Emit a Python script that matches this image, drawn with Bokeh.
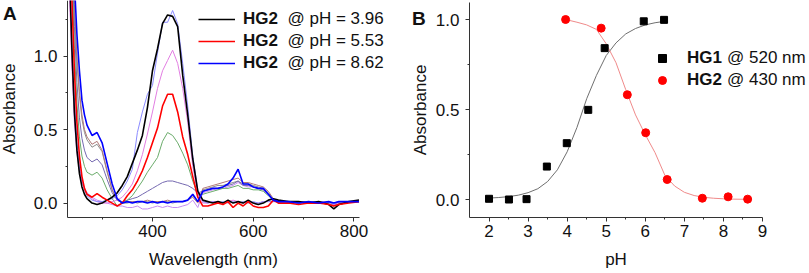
from bokeh.plotting import figure
from bokeh.layouts import row
from bokeh.models import Legend, LegendItem, FixedTicker, Range1d, NumeralTickFormatter
from bokeh.embed import file_html
from bokeh.resources import INLINE

FONT = "Liberation Sans"

# ---------------- Panel A data (absorption spectra) ----------------
wl = [232, 236, 240, 245, 250, 255, 260, 265, 270, 280, 290, 300, 310, 320, 330, 340,
      350, 360, 370, 380, 390, 400, 410, 420, 430, 440, 450, 460, 470, 480, 490, 500,
      510, 520, 530, 540, 550, 560, 570, 580, 590, 600, 610, 620, 630, 640, 650, 670,
      690, 710, 730, 750, 760, 770, 790, 810]

abs_ph396 = [2.2, 1.5, 1.05, 0.62, 0.36, 0.2, 0.11, 0.06, 0.03, 0.0, -0.01, 0.0, 0.02, 0.04, 0.07, 0.12,
             0.18, 0.27, 0.36, 0.46, 0.65, 0.9, 1.05, 1.22, 1.28, 1.27, 1.2, 0.87, 0.6, 0.3, 0.08, 0.02,
             0.01, 0.0, 0.01, 0.0, 0.02, 0.0, 0.01, 0.0, 0.02, 0.0, -0.01, 0.0, 0.02, 0.03, 0.02, 0.01,
             0.01, 0.0, 0.01, -0.01, -0.04, -0.01, 0.01, 0.02]
abs_lightblue = [2.1, 1.6, 1.15, 0.72, 0.42, 0.25, 0.15, 0.09, 0.05, 0.02, 0.01, 0.01, 0.02, 0.03, 0.05, 0.09,
                 0.15, 0.23, 0.48, 0.62, 0.74, 0.8, 1.02, 1.23, 1.23, 1.31, 1.22, 0.95, 0.66, 0.32, 0.09, 0.01,
                 0.0, 0.01, 0.0, 0.01, 0.0, 0.01, 0.0, 0.01, 0.0, 0.01, 0.0, 0.01, 0.01, 0.01, 0.01, 0.01,
                 0.0, 0.01, 0.01, 0.0, 0.0, 0.01, 0.01, 0.01]
abs_violet = [1.9, 1.35, 0.95, 0.6, 0.38, 0.24, 0.15, 0.1, 0.06, 0.03, 0.01, 0.0, 0.0, 0.01, 0.02, 0.04,
              0.08, 0.13, 0.22, 0.33, 0.47, 0.62, 0.78, 0.9, 0.97, 1.04, 0.95, 0.78, 0.55, 0.25, 0.06, 0.0,
              0.0, 0.01, 0.01, 0.0, 0.01, 0.02, 0.01, 0.0, 0.01, 0.0, 0.0, 0.01, 0.01, 0.01, 0.01, 0.01,
              0.01, 0.0, 0.01, 0.0, -0.01, 0.0, 0.01, 0.01]
abs_ph553 = [2.4, 1.85, 1.4, 0.9, 0.55, 0.32, 0.18, 0.1, 0.06, 0.04, 0.065, 0.04, 0.02, 0.0, -0.02, 0.0,
             0.05, 0.09, 0.15, 0.22, 0.31, 0.41, 0.51, 0.66, 0.74, 0.74, 0.62, 0.45, 0.33, 0.18, 0.04, -0.02,
             -0.02, -0.01, 0.0, -0.01, 0.01, -0.03, 0.0, -0.02, 0.01, -0.02, -0.03, -0.03, -0.02, 0.02, 0.0, 0.0,
             -0.01, 0.0, 0.0, -0.01, -0.02, -0.01, 0.0, 0.01]
abs_green = [2.5, 1.95, 1.55, 1.05, 0.68, 0.45, 0.32, 0.25, 0.21, 0.19, 0.21, 0.17, 0.09, 0.03, -0.02, 0.0,
             0.02, 0.05, 0.1, 0.15, 0.21, 0.26, 0.31, 0.42, 0.48, 0.46, 0.41, 0.34, 0.26, 0.15, 0.06, 0.06,
             0.07, 0.08, 0.09, 0.1, 0.1, 0.11, 0.12, 0.1, 0.1, 0.09, 0.09, 0.08, 0.05, 0.02, 0.01, 0.01,
             0.0, 0.01, 0.0, 0.0, -0.02, 0.0, 0.01, 0.01]
abs_slate = [2.7, 2.1, 1.7, 1.2, 0.82, 0.58, 0.44, 0.36, 0.31, 0.28, 0.3, 0.26, 0.16, 0.07, 0.02, 0.01,
             0.02, 0.03, 0.04, 0.06, 0.08, 0.1, 0.12, 0.14, 0.15, 0.15, 0.14, 0.13, 0.12, 0.1, 0.07, 0.08,
             0.09, 0.1, 0.1, 0.11, 0.12, 0.13, 0.15, 0.12, 0.12, 0.11, 0.1, 0.09, 0.06, 0.02, 0.01, 0.01,
             0.01, 0.0, 0.01, 0.0, -0.01, 0.0, 0.01, 0.01]
abs_brown = [2.9, 2.25, 1.85, 1.35, 1.0, 0.76, 0.6, 0.5, 0.45, 0.4, 0.42, 0.36, 0.22, 0.09, 0.02, 0.0,
             0.01, 0.01, 0.01, 0.01, 0.02, 0.01, 0.01, 0.01, 0.02, 0.01, 0.01, 0.01, 0.02, 0.04, 0.0, 0.1,
             0.11, 0.12, 0.13, 0.14, 0.15, 0.16, 0.17, 0.14, 0.14, 0.13, 0.12, 0.11, 0.08, 0.03, 0.01, 0.01,
             0.01, 0.01, 0.0, 0.01, -0.01, 0.0, 0.01, 0.01]
abs_gray = [2.8, 2.2, 1.8, 1.3, 0.96, 0.73, 0.57, 0.48, 0.43, 0.38, 0.4, 0.35, 0.21, 0.09, 0.02, 0.0,
            0.0, 0.01, 0.0, 0.01, 0.01, 0.0, 0.01, 0.01, 0.01, 0.0, 0.01, 0.01, 0.02, 0.05, 0.01, 0.09,
            0.1, 0.11, 0.12, 0.12, 0.13, 0.14, 0.15, 0.13, 0.13, 0.12, 0.11, 0.1, 0.07, 0.02, 0.01, 0.01,
            0.0, 0.01, 0.01, 0.0, -0.02, 0.0, 0.01, 0.01]
abs_lilac = [2.0, 1.4, 0.95, 0.55, 0.34, 0.22, 0.15, 0.1, 0.07, 0.04, 0.02, 0.01, 0.0, -0.01, -0.02, -0.02,
             -0.03, -0.03, -0.02, -0.04, -0.04, -0.03, -0.02, -0.03, -0.02, -0.03, -0.03, -0.02, -0.01, 0.02, -0.03, 0.07,
             0.08, 0.09, 0.1, 0.1, 0.11, 0.12, 0.14, 0.12, 0.11, 0.11, 0.1, 0.09, 0.06, 0.02, 0.01, 0.01,
             0.01, 0.0, 0.01, 0.0, -0.01, 0.0, 0.01, 0.01]
abs_ph862 = [3.0, 2.4, 1.95, 1.5, 1.15, 0.9, 0.7, 0.6, 0.53, 0.46, 0.48, 0.41, 0.27, 0.13, 0.03, 0.0,
             0.01, 0.0, 0.01, 0.01, 0.0, 0.01, 0.0, 0.01, 0.0, 0.01, 0.01, 0.01, 0.02, 0.06, 0.01, 0.08,
             0.09, 0.1, 0.1, 0.11, 0.13, 0.17, 0.23, 0.13, 0.13, 0.11, 0.1, 0.1, 0.06, 0.02, 0.01, 0.01,
             0.0, 0.01, 0.0, 0.01, 0.0, 0.01, 0.01, 0.01]

legend_a_names = ["HG2", "HG2", "HG2"]
legend_a_rest = ["@ pH = 3.96", "@ pH = 5.53", "@ pH = 8.62"]

# ---------------- Panel B data (titration) ----------------
ph_hg1 = [2.0, 2.51, 2.96, 3.48, 3.99, 4.54, 4.96, 5.96, 6.48]
a_hg1 = [0.004, 0.0, 0.002, 0.183, 0.313, 0.498, 0.841, 0.99, 0.998]
ph_hg2 = [3.96, 4.87, 5.54, 6.01, 6.56, 7.46, 8.12, 8.62]
a_hg2 = [1.0, 0.952, 0.582, 0.371, 0.111, 0.007, 0.015, 0.002]

fit1_ph = [2.0, 2.25, 2.5, 2.75, 3.0, 3.25, 3.5, 3.75, 4.0, 4.25, 4.5, 4.75, 5.0, 5.25, 5.5, 5.75, 6.0, 6.25, 6.5]
fit1_a = [0.008, 0.011, 0.016, 0.024, 0.038, 0.06, 0.1, 0.165, 0.265, 0.4, 0.56, 0.69, 0.8, 0.87, 0.92, 0.95, 0.97, 0.982, 0.99]
fit2_ph = [3.96, 4.25, 4.5, 4.75, 5.0, 5.25, 5.5, 5.75, 6.0, 6.25, 6.5, 6.75, 7.0, 7.25, 7.5, 7.75, 8.0, 8.25, 8.62]
fit2_a = [1.0, 0.985, 0.97, 0.945, 0.865, 0.76, 0.61, 0.47, 0.36, 0.26, 0.135, 0.075, 0.04, 0.022, 0.012, 0.007, 0.004, 0.002, 0.001]

legend_b_names = ["HG1", "HG2"]
legend_b_rest = ["@ 520 nm", "@ 430 nm"]

TXT = "#111111"


def style(p, xb, yb, ylab_standoff):
    p.outline_line_color = None
    p.xgrid.visible = False
    p.ygrid.visible = False
    p.background_fill_color = "white"
    p.border_fill_color = "white"
    xa, ya = p.xaxis[0], p.yaxis[0]
    xa.bounds = xb
    ya.bounds = yb
    xa.fixed_location = yb[0]
    ya.fixed_location = xb[0]
    for ax in (xa, ya):
        ax.axis_line_color = "#333333"
        ax.axis_line_width = 1
        ax.major_tick_line_color = "#333333"
        ax.minor_tick_line_color = "#333333"
        ax.major_tick_in = 0
        ax.major_tick_out = 4
        ax.minor_tick_in = 0
        ax.minor_tick_out = 2
        ax.major_label_text_font = FONT
        ax.major_label_text_font_size = "17px"
        ax.major_label_text_color = TXT
        ax.axis_label_text_font = FONT
        ax.axis_label_text_font_size = "17px"
        ax.axis_label_text_font_style = "normal"
        ax.axis_label_text_color = TXT
    xa.major_label_standoff = 3
    xa.axis_label_standoff = 10
    ya.major_label_standoff = 6
    ya.axis_label_standoff = ylab_standoff
    ya.formatter = NumeralTickFormatter(format="0.0")


def text_legend(p, texts, x, y, size="17px", bold=False):
    dummy = p.line([], [], line_alpha=0)
    items = [LegendItem(label=t, renderers=[dummy]) for t in texts]
    leg = Legend(items=items, location=(x, y), padding=0, margin=0, spacing=0,
                 glyph_width=1, glyph_height=22, label_height=22, label_standoff=0,
                 label_text_font=FONT, label_text_font_size=size,
                 label_text_font_style="bold" if bold else "normal",
                 label_text_color=TXT, background_fill_alpha=0, border_line_alpha=0,
                 inactive_fill_alpha=0)
    p.add_layout(leg)


# ---------------- Figure A ----------------
# frame covers the whole canvas; axes are drawn at fixed locations inside it
pa = figure(width=410, height=273, x_range=Range1d(98.3, 912.25), y_range=Range1d(-0.479, 1.378),
            output_backend="svg", toolbar_location=None, min_border=0)
style(pa, (231.3, 811), (-0.0986, 1.378), 12)
pa.xaxis.axis_label = "Wavelength (nm)"
pa.yaxis.axis_label = "Absorbance"
pa.xaxis.ticker = FixedTicker(ticks=[400, 600, 800], minor_ticks=[300, 500, 700])
pa.yaxis.ticker = FixedTicker(ticks=[0, 0.5, 1.0], minor_ticks=[0.25, 0.75, 1.25])

thin = [(abs_lilac, "#c58cf2"), (abs_gray, "#8e8e8e"), (abs_brown, "#b07a7a"),
        (abs_slate, "#7569b0"), (abs_green, "#6aab6a"), (abs_violet, "#e27ee2"),
        (abs_lightblue, "#8a8aff")]
for ys, c in thin:
    pa.line(wl, ys, line_color=c, line_width=1)

r_black = pa.line(wl, abs_ph396, line_color="black", line_width=1.6)
r_red = pa.line(wl, abs_ph553, line_color="#ff0000", line_width=1.6)
r_blue = pa.line(wl, abs_ph862, line_color="#0000ff", line_width=1.6)

leg_a = Legend(items=[LegendItem(label=legend_a_names[0], renderers=[r_black]),
                      LegendItem(label=legend_a_names[1], renderers=[r_red]),
                      LegendItem(label=legend_a_names[2], renderers=[r_blue])],
               location=(198, 199), padding=0, margin=0, spacing=0,
               glyph_width=37, glyph_height=22, label_height=22, label_standoff=8,
               label_text_font=FONT, label_text_font_size="17px", label_text_font_style="bold",
               label_text_color=TXT, background_fill_alpha=0, border_line_alpha=0)
pa.add_layout(leg_a)
text_legend(pa, legend_a_rest, 286.5, 199)
text_legend(pa, ["A"], 2, 248, size="19px", bold=True)

# ---------------- Figure B ----------------
pb = figure(width=399, height=273, x_range=Range1d(-0.010, 10.203), y_range=Range1d(-0.4111, 1.1056),
            output_backend="svg", toolbar_location=None, min_border=0)
style(pb, (1.5, 9), (-0.1, 1.094), 3)
pb.xaxis.axis_label = "pH"
pb.yaxis.axis_label = "Absorbance"
pb.xaxis.ticker = FixedTicker(ticks=[2, 3, 4, 5, 6, 7, 8, 9],
                              minor_ticks=[2.5, 3.5, 4.5, 5.5, 6.5, 7.5, 8.5])
pb.yaxis.ticker = FixedTicker(ticks=[0, 0.5, 1.0], minor_ticks=[0.25, 0.75])

pb.line(fit1_ph, fit1_a, line_color="#6f6f6f", line_width=1)
pb.line(fit2_ph, fit2_a, line_color="#f08a8a", line_width=1)
r_sq = pb.scatter(ph_hg1, a_hg1, marker="square", size=7, fill_color="black", line_color="black")
r_ci = pb.scatter(ph_hg2, a_hg2, marker="circle", size=8, fill_color="#ff0000", line_color="#ff0000")

leg_b = Legend(items=[LegendItem(label=legend_b_names[0], renderers=[r_sq]),
                      LegendItem(label=legend_b_names[1], renderers=[r_ci])],
               location=(242, 182), padding=0, margin=0, spacing=0,
               glyph_width=20, glyph_height=22, label_height=22, label_standoff=15,
               label_text_font=FONT, label_text_font_size="17px", label_text_font_style="bold",
               label_text_color=TXT, background_fill_alpha=0, border_line_alpha=0)
pb.add_layout(leg_b)
text_legend(pb, legend_b_rest, 316, 182)
text_legend(pb, ["B"], 1, 243, size="19px", bold=True)

layout = row(pa, pb)
open("out.html", "w").write(file_html(layout, INLINE))
